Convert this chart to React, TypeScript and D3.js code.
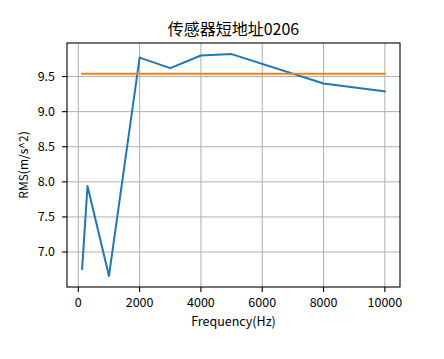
import React from "react";
import * as d3 from "d3";

const title = "传感器短地址0206";
const xLabel = "Frequency(Hz)";
const yLabel = "RMS(m/s^2)";
const freqs = [125, 300, 1000, 2000, 3000, 4000, 5000, 8000, 10000];
const rms = [6.76, 7.94, 6.66, 9.77, 9.62, 9.8, 9.82, 9.4, 9.29];
const threshold = 9.54;
const xTicks = [0, 2000, 4000, 6000, 8000, 10000];
const yTicks = [7.0, 7.5, 8.0, 8.5, 9.0, 9.5];

const W = 444;
const H = 359;
const left = 67;
const right = 400;
const top = 43;
const bottom = 287;
const FONT = "'Noto Sans CJK SC', 'Noto Sans', sans-serif";

export default function App() {
  const xMin = d3.min(freqs)!;
  const xMax = d3.max(freqs)!;
  const xPad = (xMax - xMin) * 0.05;
  const x = d3.scaleLinear().domain([xMin - xPad, xMax + xPad]).range([left, right]);
  const yMin = Math.min(d3.min(rms)!, threshold);
  const yMax = Math.max(d3.max(rms)!, threshold);
  const yPad = (yMax - yMin) * 0.05;
  const y = d3.scaleLinear().domain([yMin - yPad, yMax + yPad]).range([bottom, top]);

  const line = d3
    .line<[number, number]>()
    .x((d) => x(d[0]))
    .y((d) => y(d[1]));
  const blue = line(freqs.map((f, i) => [f, rms[i]]));
  const orange = line([
    [xMin, threshold],
    [xMax, threshold],
  ]);

  return (
    <svg width={W} height={H} style={{ position: "absolute", left: 0, top: 0, background: "#fff" }}>
      <rect x={0} y={0} width={W} height={H} fill="#fff" />
      {xTicks.map((t) => (
        <line key={"gx" + t} x1={x(t)} x2={x(t)} y1={top} y2={bottom} stroke="#b0b0b0" strokeWidth={1} />
      ))}
      {yTicks.map((t) => (
        <line key={"gy" + t} x1={left} x2={right} y1={y(t)} y2={y(t)} stroke="#b0b0b0" strokeWidth={1} />
      ))}
      <path d={blue ?? ""} fill="none" stroke="#1f77b4" strokeWidth={2} strokeLinejoin="round" strokeLinecap="square" />
      <path d={orange ?? ""} fill="none" stroke="#ff7f0e" strokeWidth={2} strokeLinecap="square" />
      <rect x={left} y={top} width={right - left} height={bottom - top} fill="none" stroke="#000" strokeWidth={1.1} />
      {xTicks.map((t) => (
        <g key={"tx" + t}>
          <line x1={x(t)} x2={x(t)} y1={bottom} y2={bottom + 5} stroke="#000" strokeWidth={1.1} />
          <text x={x(t)} y={307} textAnchor="middle" fontFamily={FONT} fontSize={12.5} fill="#000">
            {t}
          </text>
        </g>
      ))}
      {yTicks.map((t) => (
        <g key={"ty" + t}>
          <line x1={left - 5} x2={left} y1={y(t)} y2={y(t)} stroke="#000" strokeWidth={1.1} />
          <text x={55} y={y(t)} dy="0.35em" textAnchor="end" fontFamily={FONT} fontSize={12.5} fill="#000">
            {t.toFixed(1)}
          </text>
        </g>
      ))}
      <text x={(left + right) / 2} y={35} textAnchor="middle" fontFamily={FONT} fontSize={16} fill="#000">
        {title}
      </text>
      <text x={(left + right) / 2} y={326} textAnchor="middle" fontFamily={FONT} fontSize={12.5} fill="#000">
        {xLabel}
      </text>
      <text
        transform={`translate(28, ${(top + bottom) / 2}) rotate(-90)`}
        textAnchor="middle"
        fontFamily={FONT}
        fontSize={12}
        fill="#000"
      >
        {yLabel}
      </text>
    </svg>
  );
}
